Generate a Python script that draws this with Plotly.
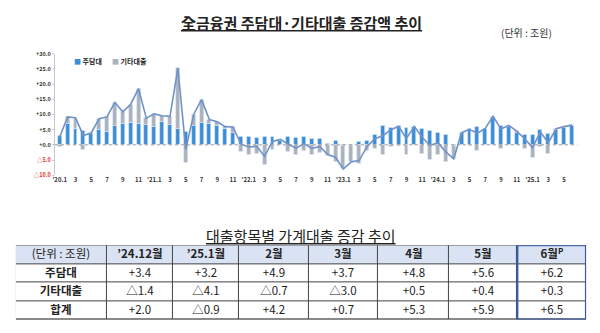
import plotly.graph_objects as go

# ---------------- data ----------------
mortgage = [3.0, 6.8, 5.2, 4.6, 3.6, 4.9, 4.2, 6.2, 7.0, 7.2, 6.8, 6.6,
            5.8, 7.6, 6.5, 5.2, 4.4, 6.3, 7.3, 6.9, 6.4, 5.2, 3.9, 2.5,
            2.7, 2.4, 2.8, 2.6, 1.5, 2.6, 2.3, 2.5, 2.0, 2.1, 0.5, 1.5,
            -0.2, -0.2, 0.9, 1.5, 3.3, 6.2, 5.5, 6.3, 5.5, 5.9, 5.4, 4.6,
            3.9, 3.3, -0.2, 3.9, 5.4, 5.9, 5.4, 9.4, 6.4, 5.8, 4.1, 3.4,
            3.2, 4.9, 3.7, 4.8, 5.6, 6.2]
other = [-0.5, 2.4, 3.7, -1.5, 0.3, 3.7, 5.0, 7.8, 3.9, 6.1, 11.7, 2.2,
         4.4, 2.0, 2.9, 20.1, -5.9, 3.7, 7.6, 1.4, 1.2, 0.8, 2.0, -2.3,
         -3.4, -2.9, -6.6, -1.5, 0.3, -2.4, -3.4, -2.1, -3.2, -2.6, -3.7, -5.6,
         -7.8, -5.4, -6.1, -2.1, -1.3, -3.2, -0.6, -0.2, -3.4, 0.2, -2.9, -4.8,
         -3.2, -5.6, -4.4, 0.1, -0.3, -2.1, 0.0, 0.0, -1.2, 0.6, 0.4, -1.4,
         -4.1, -0.7, -3.0, 0.5, 0.4, 0.3]
total = [round(a + b, 1) for a, b in zip(mortgage, other)]
months = list(range(len(mortgage)))

xtick_vals = list(range(0, 66, 2))
xtick_text = []
for v in xtick_vals:
    yr, m = 20 + v // 12, v % 12 + 1
    xtick_text.append(f"'{yr}.1" if m == 1 else str(m))

ytick_vals = [30, 25, 20, 15, 10, 5, 0, -5, -10]
ytick_text = ["+30.0", "+25.0", "+20.0", "+15.0", "+10.0", "+5.0", "+0.0", "△5.0", "△10.0"]

chart_title = "全금융권 주담대·기타대출 증감액 추이"
unit_text = "(단위 : 조원)"
legend_names = ["주담대", "기타대출"]

table_title = "대출항목별 가계대출 증감 추이"
table_cols = ["’24.12월", "’25.1월", "2월", "3월", "4월", "5월", "6월<sup>P</sup>"]
table_rows = ["주담대", "기타대출", "합계"]
t_mortgage = [3.4, 3.2, 4.9, 3.7, 4.8, 5.6, 6.2]
t_other = [-1.4, -4.1, -0.7, -3.0, 0.5, 0.4, 0.3]
t_total = [2.0, -0.9, 4.2, 0.7, 5.3, 5.9, 6.5]
col_widths = [91, 67, 66, 70, 70, 71, 69, 69]

# ---------------- style ----------------
BLUE = "#3b8dd7"
GRAY = "#aab2bf"
LINE = "#6f93c9"
RED = "#e0302a"
FONT = "Noto Sans CJK KR"
W, H = 600, 333


def px(x):
    return x / W


def py(y):
    return 1 - y / H


def fmt(v):
    return f"△{abs(v):.1f}" if v < 0 else f"+{v:.1f}"


fig = go.Figure()
fig.add_trace(go.Bar(x=months, y=mortgage, name=legend_names[0], marker_color=BLUE,
                     width=0.5, showlegend=False))
fig.add_trace(go.Bar(x=months, y=other, name=legend_names[1], marker_color=GRAY,
                     width=0.5, showlegend=False))
fig.add_trace(go.Scatter(x=months, y=total, mode="lines", line=dict(color=LINE, width=1.6),
                         showlegend=False))

ytext = [f"<span style='color:{RED}'>{t}</span>" if v < 0 else t
         for v, t in zip(ytick_vals, ytick_text)]

# ---------------- table as heatmap grid ----------------
edges = [0]
for w in col_widths:
    edges.append(edges[-1] + w)
n_rows = 1 + len(table_rows)
header_row = [unit_text] + [f"<b>{c}</b>" for c in table_cols]
body = []
for name, series in zip(table_rows, [t_mortgage, t_other, t_total]):
    body.append([f"<b>{name}</b>"] + [fmt(v) for v in series])
cell_text = [header_row] + body
cell_z = [[1] * len(col_widths)] + [[0] * len(col_widths) for _ in table_rows]

fig.add_trace(go.Heatmap(
    x=edges, y=list(range(n_rows + 1)), z=cell_z, text=cell_text,
    texttemplate="%{text}", textfont=dict(family=FONT, size=11.5, color="#222"),
    colorscale=[[0, "white"], [1, "#dae3f3"]], zmin=0, zmax=1, showscale=False,
    xgap=1, ygap=1, hoverinfo="skip", xaxis="x2", yaxis="y2",
))

fig.update_layout(
    width=W, height=H, margin=dict(l=0, r=0, t=0, b=0),
    paper_bgcolor="white", plot_bgcolor="white",
    barmode="relative", bargap=0,
    font=dict(family=FONT, color="#222"),
    xaxis=dict(domain=[px(52.2), px(577.3)], range=[-0.6, 65.7],
               tickvals=xtick_vals, ticktext=xtick_text, tickangle=0,
               tickfont=dict(size=6, color="#333", weight="bold"),
               showgrid=False, zeroline=False, showline=False, ticks=""),
    yaxis=dict(domain=[py(175.4), py(51)], range=[-10, 30],
               tickvals=ytick_vals, ticktext=ytext,
               tickfont=dict(size=5.5, color="#333", weight="bold"),
               showgrid=False, zeroline=False, showline=True, linecolor="#c8c8c8",
               linewidth=1, ticks="outside", ticklen=2, tickcolor="#c8c8c8"),
    xaxis2=dict(domain=[px(13), px(586)], range=[0, edges[-1]], visible=False,
                anchor="y2", fixedrange=True),
    yaxis2=dict(domain=[py(323.3), py(247.3)], range=[n_rows, 0], visible=False,
                anchor="x2", fixedrange=True),
    shapes=[
        dict(type="line", xref="x domain", yref="y", x0=0, x1=1, y0=0, y1=0,
             line=dict(color="#9a9a9a", width=1, dash="dot")),
        dict(type="rect", xref="x2", yref="y2", x0=0, x1=edges[-1], y0=0, y1=n_rows,
             fillcolor="#444", line=dict(color="#444", width=1), layer="below"),
        dict(type="rect", xref="x2", yref="y2", x0=edges[-2], x1=edges[-1], y0=0, y1=n_rows,
             line=dict(color="#3a5ca8", width=2)),
    ],
    annotations=[
        dict(text=f"<b><u>{chart_title}</u></b>", x=px(300), y=py(19), xref="paper", yref="paper",
             yanchor="middle", showarrow=False, font=dict(size=15, color="#222", family=FONT)),
        dict(text=unit_text, x=px(554), y=py(29), xref="paper", yref="paper",
             yanchor="middle", showarrow=False, font=dict(size=10, color="#333", family=FONT)),
        dict(text=f"<span style='color:{BLUE}'>■</span> <b>{legend_names[0]}</b>",
             x=px(69), y=py(58), xref="paper", yref="paper", xanchor="left", yanchor="middle",
             showarrow=False, font=dict(size=7, color="#222", family=FONT)),
        dict(text=f"<span style='color:{GRAY}'>■</span> <b>{legend_names[1]}</b>",
             x=px(108), y=py(58), xref="paper", yref="paper", xanchor="left", yanchor="middle",
             showarrow=False, font=dict(size=7, color="#222", family=FONT)),
        dict(text=f"<u>{table_title}</u>", x=px(299), y=py(237), xref="paper", yref="paper",
             yanchor="middle", showarrow=False, font=dict(size=15, color="#222", family=FONT)),
    ],
)

fig.write_html("out.html")
